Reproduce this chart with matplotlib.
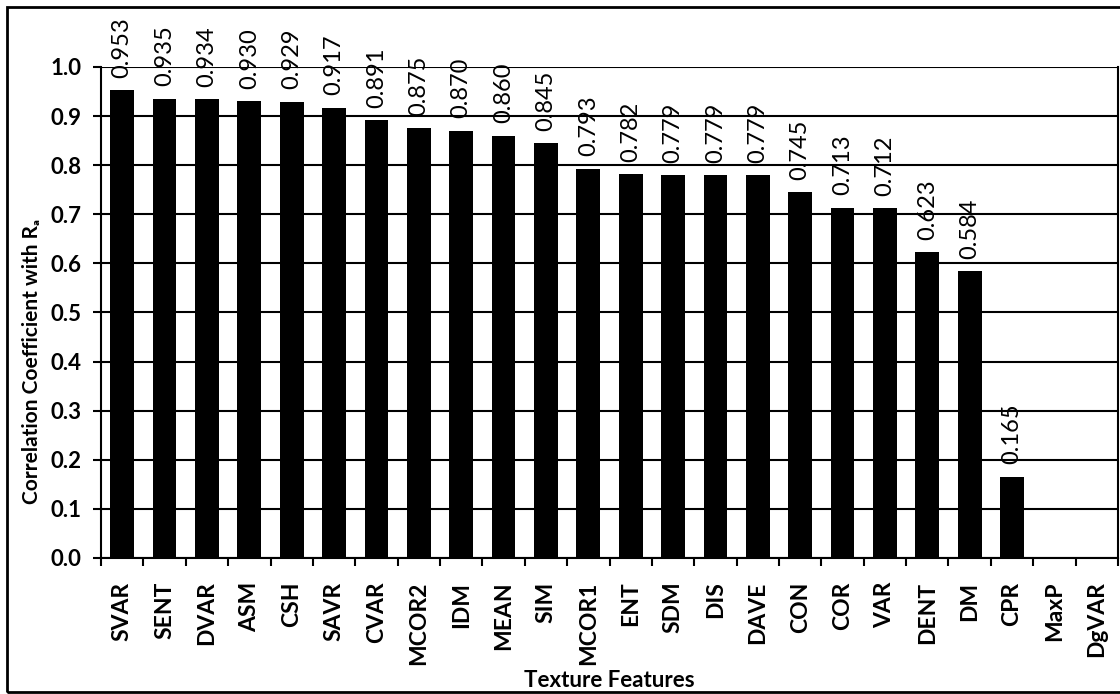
import matplotlib
matplotlib.use("Agg")
import matplotlib.pyplot as plt
import numpy as np
from matplotlib.patches import Rectangle

features = ["SVAR", "SENT", "DVAR", "ASM", "CSH", "SAVR", "CVAR", "MCOR2", "IDM",
            "MEAN", "SIM", "MCOR1", "ENT", "SDM", "DIS", "DAVE", "CON", "COR",
            "VAR", "DENT", "DM", "CPR", "MaxP", "DgVAR"]
values = [0.953, 0.935, 0.934, 0.930, 0.929, 0.917, 0.891, 0.875, 0.870,
          0.860, 0.845, 0.793, 0.782, 0.779, 0.779, 0.779, 0.745, 0.713,
          0.712, 0.623, 0.584, 0.165, np.nan, np.nan]
yticks = [0.0, 0.1, 0.2, 0.3, 0.4, 0.5, 0.6, 0.7, 0.8, 0.9, 1.0]

plt.rcParams['font.family'] = ['Lato', 'DejaVu Sans']

fig = plt.figure(figsize=(11.2, 6.94), dpi=100)
ax = fig.add_axes([0.0902, 0.196, 0.908, 0.7075])

x = np.arange(len(features))
ax.bar(x, values, width=0.56, color='black', zorder=3)

for xi, v in zip(x, values):
    if np.isnan(v):
        continue
    ax.annotate(f"{v:.3f}", (xi, v), xytext=(0, 9), textcoords='offset points',
                rotation=90, ha='center', va='bottom', fontsize=17,
                color='black', annotation_clip=False, zorder=4)

ax.set_xlim(-0.5, len(features) - 0.5)
ax.set_ylim(0, 1.0)
ax.set_yticks(yticks)
ax.set_yticklabels([f"{t:.1f}" for t in yticks], fontsize=16, fontweight='bold')
ax.yaxis.grid(True, color='black', linewidth=1.5, zorder=1)
ax.set_axisbelow(True)

ax.set_xticks(x)
ax.set_xticklabels(features, rotation=90, fontsize=16.5, fontweight='bold')
ax.tick_params(axis='x', which='major', length=0, pad=17)
ax.set_xticks(np.arange(-0.5, len(features) + 0.5, 1.0), minor=True)
ax.tick_params(axis='x', which='minor', length=6, width=1.5, direction='out')
ax.tick_params(axis='y', which='major', length=6, width=1.5, direction='out', pad=8)

for s in ['left', 'right', 'bottom']:
    ax.spines[s].set_linewidth(1.5)
    ax.spines[s].set_color('black')
ax.spines['top'].set_visible(False)

ax.set_ylabel("Correlation Coefficient with R\u2090", fontsize=15,
              fontweight='bold')
ax.yaxis.set_label_coords(-0.058, 0.40)
ax.set_xlabel("Texture Features", fontsize=16, fontweight='bold')
ax.xaxis.set_label_coords(0.5, -0.228)

# outer chart frame
frame = Rectangle((7 / 1120, 1 - 692 / 694), 1.2, (692 - 7) / 694,
                  transform=fig.transFigure, fill=False, edgecolor='black',
                  linewidth=2, clip_on=False)
fig.patches.append(frame)

fig.savefig("out.png", dpi=100)
